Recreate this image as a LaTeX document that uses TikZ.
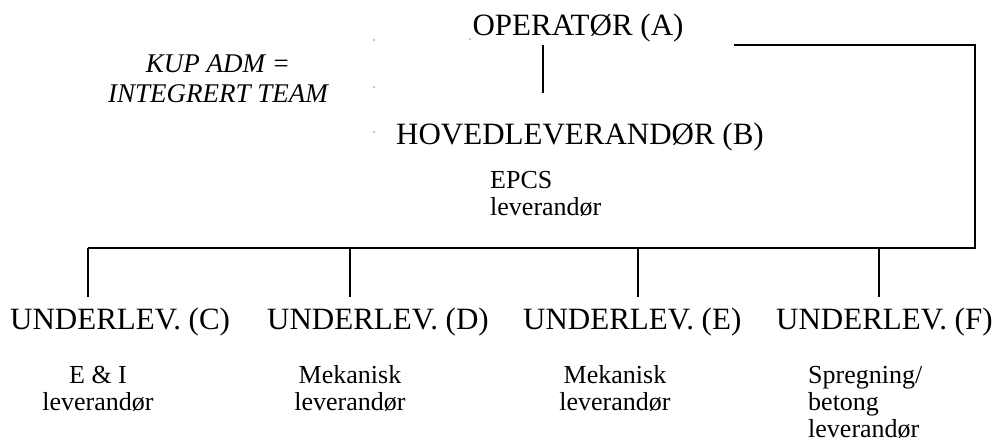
\documentclass[tikz,border=0pt]{standalone}
\usepackage{fontspec}
\setmainfont{Liberation Serif}
\begin{document}
\begin{tikzpicture}[x=1pt,y=-1pt,
  big/.style={inner sep=0pt,font=\fontsize{31}{31}\selectfont},
  small/.style={inner sep=0pt,font=\fontsize{26}{26}\selectfont},
  ital/.style={inner sep=0pt,font=\fontsize{27}{27}\selectfont\itshape},
  conn/.style={line width=1.6pt},
  speck/.style={fill=black,inner sep=0pt,minimum size=1.4pt,circle}]
\useasboundingbox (0,0) rectangle (1006,443);
% main labels
\node[big,anchor=base] (A) at (578,36) {OPERATØR (A)};
\node[big,anchor=base] (B) at (580,145) {HOVEDLEVERANDØR (B)};
\node[small,anchor=base west] (B1) at (490,189) {EPCS};
\node[small,anchor=base west] (B2) at (490,216) {leverandør};
\node[ital,anchor=base] (K1) at (218,73) {KUP ADM =};
\node[ital,anchor=base] (K2) at (218,103) {INTEGRERT TEAM};
% sub-suppliers
\node[big,anchor=base west] (C) at (10,330) {UNDERLEV. (C)};
\node[big,anchor=base west] (D) at (267,330) {UNDERLEV. (D)};
\node[big,anchor=base west] (E) at (523,330) {UNDERLEV. (E)};
\node[big,anchor=base west] (F) at (776,330) {UNDERLEV. (F)};
\node[small,anchor=base] (C1) at (98,383) {E \& I};
\node[small,anchor=base] (C2) at (98,410) {leverandør};
\node[small,anchor=base] (D1) at (350,383) {Mekanisk};
\node[small,anchor=base] (D2) at (350,410) {leverandør};
\node[small,anchor=base] (E1) at (615,383) {Mekanisk};
\node[small,anchor=base] (E2) at (615,410) {leverandør};
\node[small,anchor=base west] (F1) at (808,383) {Spregning/};
\node[small,anchor=base west] (F2) at (808,410) {betong};
\node[small,anchor=base west] (F3) at (808,437) {leverandør};
% connector points
\coordinate (a1) at (543,45);
\coordinate (a2) at (543,93);
\coordinate (t0) at (734,45);
\coordinate (t1) at (975,45);
\coordinate (t2) at (975,248);
\coordinate (bc) at (88,248);
\coordinate (bd) at (350,248);
\coordinate (be) at (638,248);
\coordinate (bf) at (879,248);
\coordinate (dc) at (88,297);
\coordinate (dd) at (350,297);
\coordinate (de) at (638,297);
\coordinate (df) at (879,297);
\draw[conn] (a1) -- (a2);
\draw[conn] (t0) -- (t1) -- (t2) -- (bc);
\draw[conn] (bc) -- (dc);
\draw[conn] (bd) -- (dd);
\draw[conn] (be) -- (de);
\draw[conn] (bf) -- (df);
% stray specks
\node[speck] (s1) at (374,40) {};
\node[speck] (s2) at (374,87) {};
\node[speck] (s3) at (374,132) {};
\node[speck] (s4) at (470,39) {};
\end{tikzpicture}
\end{document}
